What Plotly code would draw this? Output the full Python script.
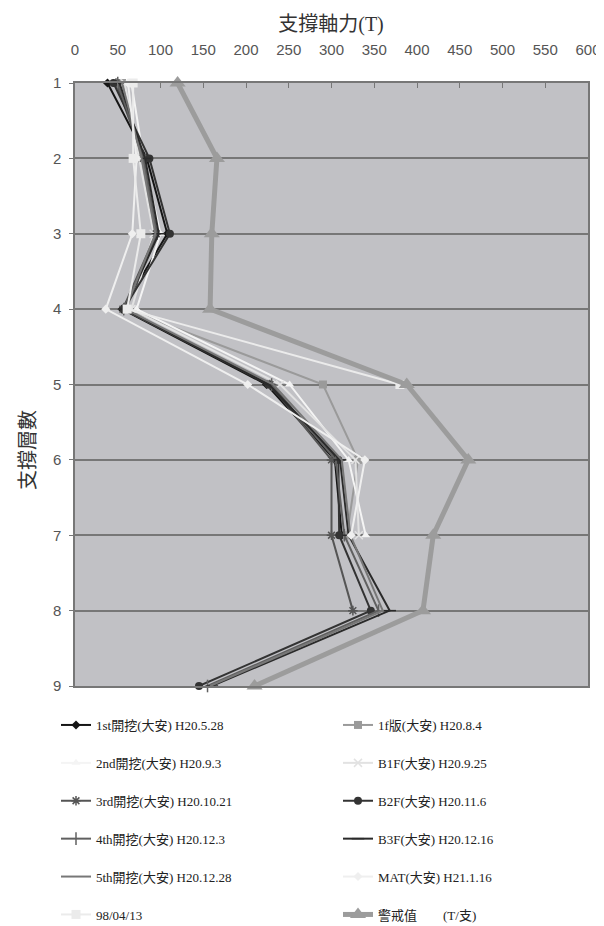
import plotly.graph_objects as go

levels = [1, 2, 3, 4, 5, 6, 7, 8, 9]

s_1st = [38, 84, 108, 55, 224, 304, 312, None, None]
s_1f = [55, 78, 95, 60, 290, 331, 318, None, None]
s_2nd = [66, 80, 100, 72, 251, 320, 340, None, None]
s_b1f = [58, 75, 92, 66, 240, 328, 332, None, None]
s_3rd = [48, 80, 95, 56, 228, 300, 300, 325, None]
s_b2f = [45, 87, 111, 57, 226, 308, 309, 346, 145]
s_4th = [50, 80, 96, 57, 230, 305, 315, 355, 155]
s_b3f = [52, 82, 98, 58, 227, 310, 320, 368, 160]
s_5th = [55, 78, 94, 59, 232, 312, 322, 360, 158]
s_mat = [62, 72, 67, 36, 202, 339, 323, None, None]
s_98 = [68, 68, 77, 61, 380, None, None, None, None]
s_warn = [120, 166, 160, 158, 388, 460, 419, 407, 210]

names = ["1st開挖(大安) H20.5.28", "1f版(大安) H20.8.4",
         "2nd開挖(大安) H20.9.3", "B1F(大安) H20.9.25",
         "3rd開挖(大安) H20.10.21", "B2F(大安) H20.11.6",
         "4th開挖(大安) H20.12.3", "B3F(大安) H20.12.16",
         "5th開挖(大安) H20.12.28", "MAT(大安) H21.1.16",
         "98/04/13", "警戒值　　(T/支)"]
series = [s_1st, s_1f, s_2nd, s_b1f, s_3rd, s_b2f, s_4th, s_b3f, s_5th, s_mat, s_98, s_warn]

styles = [
    dict(color="#151515", width=2, symbol="diamond", size=7),
    dict(color="#9a9a9a", width=2, symbol="square", size=8),
    dict(color="#f4f4f4", width=2, symbol="triangle-up", size=8),
    dict(color="#e2e2e2", width=2, symbol="x-thin-open", size=8),
    dict(color="#555555", width=2, symbol="asterisk-open", size=8),
    dict(color="#333333", width=2, symbol="circle", size=8),
    dict(color="#606060", width=2, symbol="line-ns-open", size=9),
    dict(color="#2a2a2a", width=2, symbol="line-ew-open", size=9),
    dict(color="#777777", width=2, symbol=None, size=0),
    dict(color="#efefef", width=2, symbol="diamond", size=7),
    dict(color="#ebebeb", width=2, symbol="square", size=9),
    dict(color="#9c9c9c", width=5, symbol="triangle-up", size=14),
]

W, H = 604, 926
OFF = 8  # page offset of the figure
fig = go.Figure()
for i, (nm, vals, st) in enumerate(zip(names, series, styles)):
    marker = dict(color=st["color"], size=st["size"])
    if st["symbol"] is None:
        mode = "lines"
    else:
        mode = "lines+markers"
        marker["symbol"] = st["symbol"]
        if "open" in st["symbol"]:
            marker["line"] = dict(color=st["color"], width=1.5)
    fig.add_trace(go.Scatter(
        x=vals, y=levels, name=nm, mode=mode,
        line=dict(color=st["color"], width=st["width"]),
        marker=marker, cliponaxis=False,
        legend="legend" if i % 2 == 0 else "legend2",
        legendgroup=f"g{i}",
    ))

leg_font = dict(family="Liberation Serif, Noto Sans CJK TC", size=13, color="#222")
common = dict(xref="container", yref="container", xanchor="left", yanchor="top",
              bgcolor="rgba(0,0,0,0)", font=leg_font, tracegroupgap=18,
              itemwidth=30, orientation="v")
tickfont = dict(family="Liberation Sans Narrow, Liberation Sans", size=15, color="#555")
fig.update_layout(
    width=W, height=H,
    margin=dict(l=75 - OFF, r=16 + OFF, t=83 - OFF, b=240 + OFF, autoexpand=False),
    paper_bgcolor="white",
    plot_bgcolor="#c1c1c5",
    showlegend=True,
    legend=dict(x=48 / W, y=1 - 702 / H, **common),
    legend2=dict(x=330 / W, y=1 - 702 / H, **common),
    title=dict(text="支撐軸力(T)", x=(331 - OFF) / W, xanchor="center",
               y=1 - (24 - OFF) / H, yanchor="middle",
               font=dict(family="Liberation Serif, Noto Sans CJK TC", size=20, color="#333")),
    xaxis=dict(side="top", range=[0, 600], dtick=50, tick0=0,
               ticks="inside", ticklen=5, tickcolor="#777", ticklabelstandoff=20,
               showline=True, linecolor="#777", linewidth=1.5, mirror=True,
               showgrid=False, zeroline=False, automargin=False,
               tickfont=tickfont),
    yaxis=dict(range=[9, 1], dtick=1, tick0=1,
               ticks="outside", ticklen=4, tickcolor="#777", ticklabelstandoff=5,
               showline=True, linecolor="#777", linewidth=1.5, mirror=True,
               showgrid=True, gridcolor="#777777", gridwidth=1.5, zeroline=False, automargin=False,
               tickfont=tickfont),
    annotations=[dict(text="支撐層數", xref="paper", yref="paper",
                      x=-(75 - 28) / (588 - 75),
                      y=1 - (450 - 83) / (686 - 83),
                      xanchor="center", yanchor="middle", textangle=-90, showarrow=False,
                      font=dict(family="Liberation Serif, Noto Sans CJK TC", size=20, color="#333"))],
)

fig.write_html("out.html")
